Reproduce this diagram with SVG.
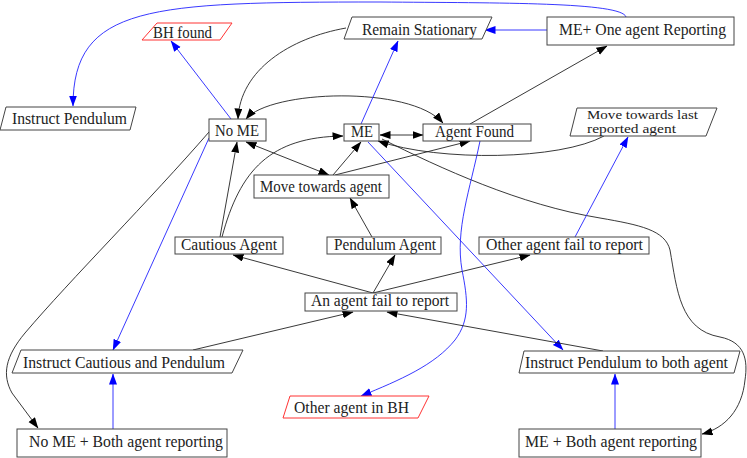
<svg xmlns="http://www.w3.org/2000/svg" width="747" height="458" viewBox="0 0 747 458">
<style>
  .box{fill:#fff;stroke:#444;stroke-width:1}
  .red{fill:#fff;stroke:#f33;stroke-width:1}
  text{font-family:"Liberation Serif","DejaVu Serif",serif;font-size:16px;fill:#222}
  .sm{font-size:12.5px}
  .k{fill:none;stroke:#222;stroke-width:0.9}
  .b{fill:none;stroke:#22f;stroke-width:0.9}
  .kk{marker-end:url(#ak)}
  .bb{marker-end:url(#ab)}
  .kd{marker-start:url(#ak);marker-end:url(#ak)}
</style>
<defs>
  <marker id="ak" markerUnits="userSpaceOnUse" markerWidth="11" markerHeight="9" refX="10.5" refY="4" orient="auto-start-reverse">
    <path d="M0,0 L11,4 L0,8 z" fill="#000"/>
  </marker>
  <marker id="ab" markerUnits="userSpaceOnUse" markerWidth="11" markerHeight="9" refX="10.5" refY="4" orient="auto-start-reverse">
    <path d="M0,0 L11,4 L0,8 z" fill="#00f"/>
  </marker>
</defs>
<rect width="747" height="458" fill="#fff"/>

<g id="connectors">
  <path class="b bb" d="M626,17 C622,2 500,3 380,2 C150,2 73,5 73,106"/>
  <path class="b bb" d="M547,30 L485,30"/>
  <path class="k kk" d="M346,28 C290,38 240,70 238,119"/>
  <path class="k kd" d="M246,119 C270,90 410,85 443,123"/>
  <path class="b bb" d="M231,119 L171,41"/>
  <path class="b bb" d="M361,124 L398,41"/>
  <path class="k kk" d="M470,124 L607,46"/>
  <path class="k kd" d="M380,135 L423,135"/>
  <path class="k kk" d="M604,136 C560,160 440,162 378,141"/>
  <path class="k kk" d="M382,139 C440,168 520,205 600,218 C640,225 665,230 670,250 C677,290 680,330 720,337 C745,342 748,360 745,380 C742,410 725,428 702,434"/>
  <path class="k kd" d="M246,142 L329,175"/>
  <path class="k kk" d="M333,175 L361,142"/>
  <path class="k kk" d="M335,175 L470,141"/>
  <path class="k kk" d="M220,237 L237,142"/>
  <path class="k kk" d="M222,237 C240,170 270,137 343,136"/>
  <path class="k kk" d="M372,237 L350,198"/>
  <path class="k kk" d="M373,293 L233,255"/>
  <path class="k kk" d="M373,293 L395,255"/>
  <path class="k kk" d="M373,293 L530,255"/>
  <path class="b bb" d="M575,237 L628,137"/>
  <path class="b bb" d="M480,141 C470,190 455,230 462,270 C468,300 470,320 455,340 C435,365 400,380 361,396"/>
  <path class="b bb" d="M368,142 L563,350"/>
  <path class="b bb" d="M209,138 L113,350"/>
  <path class="k kk" d="M209,132 C150,200 70,280 25,333 C5,357 2,375 12,393 L38,428"/>
  <path class="b bb" d="M113,429 L113,374"/>
  <path class="k kk" d="M193,350 L353,312"/>
  <path class="k kk" d="M603,351 L387,312"/>
  <path class="b bb" d="M615,429 L615,374"/>
</g>

<g id="bh-found"><polygon class="red" points="157,23 232,23 220,40 142,40"/><text x="153" y="38" textLength="59" lengthAdjust="spacingAndGlyphs">BH found</text></g>
<g id="remain-stationary"><polygon class="box" points="352,17 492,17 482,39 344,39"/><text x="362" y="35" textLength="115" lengthAdjust="spacingAndGlyphs">Remain Stationary</text></g>
<g id="me-one-agent"><rect class="box" x="547" y="17" width="187" height="28"/><text x="559" y="35" textLength="167" lengthAdjust="spacingAndGlyphs">ME+ One agent Reporting</text></g>
<g id="instruct-pendulum"><polygon class="box" points="6,107 136,107 130,130 0,130"/><text x="12" y="124" textLength="115" lengthAdjust="spacingAndGlyphs">Instruct Pendulum</text></g>
<g id="no-me"><rect class="box" x="209" y="119" width="57" height="22"/><text x="215" y="136" textLength="44" lengthAdjust="spacingAndGlyphs">No ME</text></g>
<g id="me"><rect class="box" x="344" y="124" width="35" height="17"/><text x="351" y="137" textLength="22" lengthAdjust="spacingAndGlyphs">ME</text></g>
<g id="agent-found"><rect class="box" x="423" y="124" width="108" height="17"/><text x="435" y="137" textLength="79" lengthAdjust="spacingAndGlyphs">Agent Found</text></g>
<g id="move-last"><polygon class="box" points="577,108 717,108 706,136 570,136"/><text class="sm" x="587" y="119" textLength="111" lengthAdjust="spacingAndGlyphs">Move towards last</text><text class="sm" x="587" y="133" textLength="89" lengthAdjust="spacingAndGlyphs">reported agent</text></g>
<g id="move-agent"><rect class="box" x="254" y="175" width="135" height="23"/><text x="260" y="192" textLength="122" lengthAdjust="spacingAndGlyphs">Move towards agent</text></g>
<g id="cautious"><rect class="box" x="175" y="237" width="108" height="17"/><text x="181" y="250" textLength="96" lengthAdjust="spacingAndGlyphs">Cautious Agent</text></g>
<g id="pendulum"><rect class="box" x="327" y="237" width="114" height="17"/><text x="334" y="250" textLength="102" lengthAdjust="spacingAndGlyphs">Pendulum Agent</text></g>
<g id="other-fail"><rect class="box" x="479" y="237" width="170" height="17"/><text x="486" y="250" textLength="157" lengthAdjust="spacingAndGlyphs">Other agent fail to report</text></g>
<g id="agent-fail"><rect class="box" x="305" y="293" width="152" height="18"/><text x="311" y="306" textLength="138" lengthAdjust="spacingAndGlyphs">An agent fail to report</text></g>
<g id="instruct-cp"><polygon class="box" points="21,350 243,350 232,373 12,373"/><text x="23" y="368" textLength="202" lengthAdjust="spacingAndGlyphs">Instruct Cautious and Pendulum</text></g>
<g id="other-bh"><polygon class="red" points="290,396 429,396 418,418 283,418"/><text x="294" y="413" textLength="115" lengthAdjust="spacingAndGlyphs">Other agent in BH</text></g>
<g id="instruct-pb"><polygon class="box" points="524,351 740,351 734,373 519,373"/><text x="525" y="368" textLength="203" lengthAdjust="spacingAndGlyphs">Instruct Pendulum to both agent</text></g>
<g id="no-me-both"><rect class="box" x="17" y="429" width="210" height="28"/><text x="29" y="447" textLength="194" lengthAdjust="spacingAndGlyphs">No ME + Both agent reporting</text></g>
<g id="me-both"><rect class="box" x="519" y="429" width="182" height="28"/><text x="525" y="447" textLength="172" lengthAdjust="spacingAndGlyphs">ME + Both agent reporting</text></g>
</svg>
